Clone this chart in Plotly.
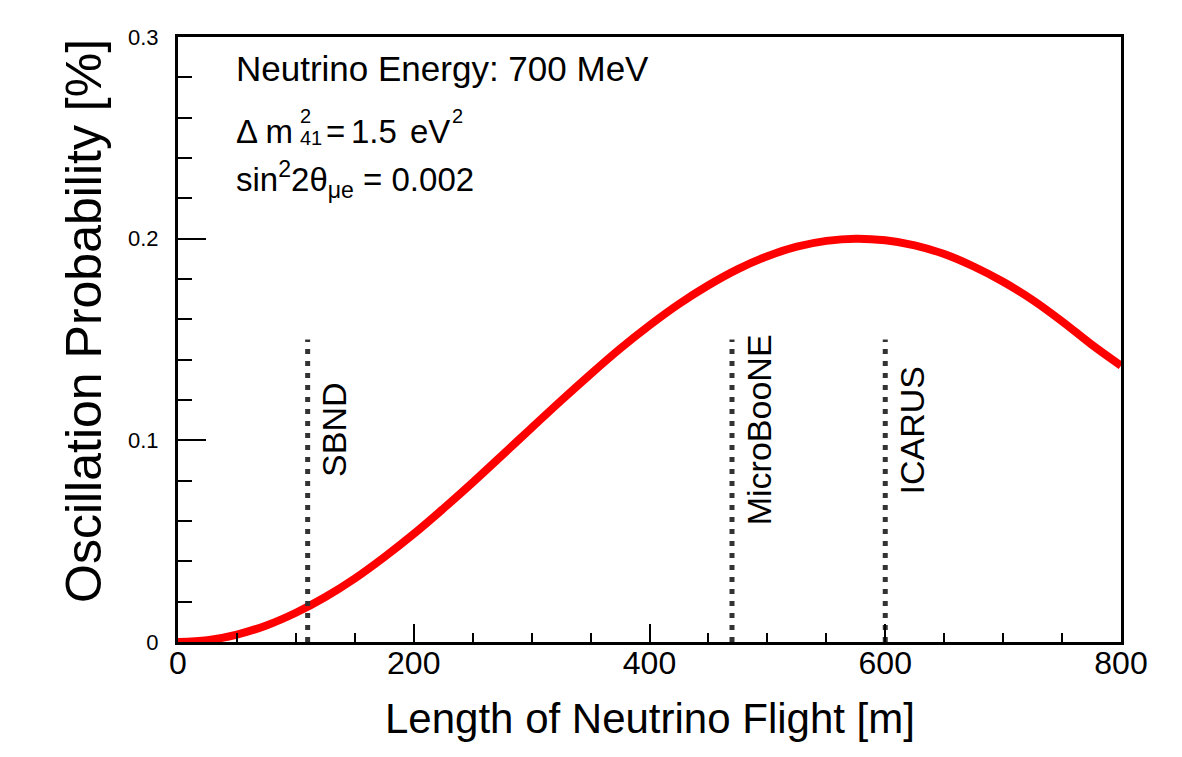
import plotly.graph_objects as go

# ---- data ----
baseline_m = [0, 25, 50, 75, 100, 125, 150, 175, 200, 225, 250, 275, 300, 325, 350,
              375, 400, 425, 450, 475, 500, 525, 550, 575, 600, 625, 650, 675, 700,
              725, 750, 775, 800]
prob_percent = [0.0, 0.0009, 0.0037, 0.0082, 0.0145, 0.0223, 0.0315, 0.0421, 0.0536,
                0.0661, 0.0791, 0.0926, 0.1062, 0.1197, 0.1328, 0.1454, 0.1570, 0.1676,
                0.1769, 0.1849, 0.1913, 0.1960, 0.1989, 0.2000, 0.1992, 0.1967, 0.1924,
                0.1862, 0.1786, 0.1696, 0.1590, 0.1475, 0.1370]

detector_names = ["SBND", "MicroBooNE", "ICARUS"]
detector_positions = [110, 470, 600]
detector_line_top = 0.15
detector_label_y = 0.105

x_tick_vals = [0, 200, 400, 600, 800]
x_tick_text = ["0", "200", "400", "600", "800"]
y_tick_vals = [0, 0.1, 0.2, 0.3]
y_tick_text = ["0", "0.1", "0.2", "0.3"]

FONT = "Liberation Sans, Arial, Helvetica, sans-serif"

# plot area geometry (pixels)
W, H = 1182, 757
L, R, T, B = 178, 61, 37, 115
PW, PH = W - L - R, H - T - B


def px(xp):
    return (xp - L) / PW


def py(yp):
    return (H - B - yp) / PH


fig = go.Figure()

fig.add_trace(go.Scatter(
    x=baseline_m, y=prob_percent, mode="lines",
    line=dict(color="#ff0000", width=8, shape="spline"),
    cliponaxis=False, showlegend=False, hoverinfo="skip"))

annotations = []
for name, pos in zip(detector_names, detector_positions):
    fig.add_trace(go.Scatter(
        x=[pos, pos], y=[0, detector_line_top], mode="lines",
        line=dict(color="#333333", width=5, dash="5px,7px"),
        showlegend=False, hoverinfo="skip"))
    annotations.append(dict(
        x=pos, y=detector_label_y, xref="x", yref="y", text=name,
        textangle=-90, showarrow=False, xanchor="center", yanchor="middle",
        xshift=27, font=dict(family=FONT, size=34, color="black")))

# info text block
txt_font = dict(family=FONT, size=33, color="black")
small_font = dict(family=FONT, size=20, color="black")


def note(xp, yp, text, font):
    return dict(x=px(xp), y=py(yp), xref="paper", yref="paper", text=text,
                showarrow=False, xanchor="left", yanchor="middle", font=font,
                borderpad=0)


annotations += [
    note(235, 69, "Neutrino Energy: 700 MeV", dict(family=FONT, size=35, color="black")),
    note(235, 131, "Δ m", txt_font),
    note(299, 116, "2", small_font),
    note(299, 138, "41", small_font),
    note(325, 131, "=", txt_font),
    note(350, 131, "1.5", txt_font),
    note(409, 131, "eV", txt_font),
    note(451, 116, "2", small_font),
    note(235, 180, "sin<sup>2</sup>2θ<sub>μe</sub> = 0.002", txt_font),
]

# axis titles
annotations += [
    dict(x=px(649.5), y=py(718), xref="paper", yref="paper",
         text="Length of Neutrino Flight [m]", showarrow=False,
         xanchor="center", yanchor="middle", font=dict(family=FONT, size=42, color="black")),
    dict(x=px(84), y=py(37), xref="paper", yref="paper",
         text="Oscillation Probability [%]", showarrow=False, textangle=-90,
         xanchor="center", yanchor="top", font=dict(family=FONT, size=50, color="black")),
]

fig.update_layout(
    width=W, height=H,
    margin=dict(l=L, r=R, t=T, b=B, pad=0),
    paper_bgcolor="white", plot_bgcolor="white",
    showlegend=False,
    annotations=annotations,
    xaxis=dict(range=[0, 800], tickvals=x_tick_vals, ticktext=x_tick_text,
               ticks="inside", ticklen=18, tickwidth=2, tickcolor="black",
               minor=dict(dtick=50, ticks="inside", ticklen=9, tickwidth=2, tickcolor="black"),
               showline=True, linecolor="black", linewidth=3, mirror=True,
               showgrid=False, zeroline=False, ticklabelstandoff=-9,
               tickfont=dict(family=FONT, size=32, color="black")),
    yaxis=dict(range=[0, 0.3], tickvals=y_tick_vals, ticktext=y_tick_text,
               ticks="inside", ticklen=28, tickwidth=2, tickcolor="black",
               minor=dict(dtick=0.02, ticks="inside", ticklen=14, tickwidth=2, tickcolor="black"),
               showline=True, linecolor="black", linewidth=3, mirror=True,
               showgrid=False, zeroline=False, ticklabelstandoff=12,
               tickfont=dict(family=FONT, size=22, color="black")),
)

fig.write_html("out.html")
